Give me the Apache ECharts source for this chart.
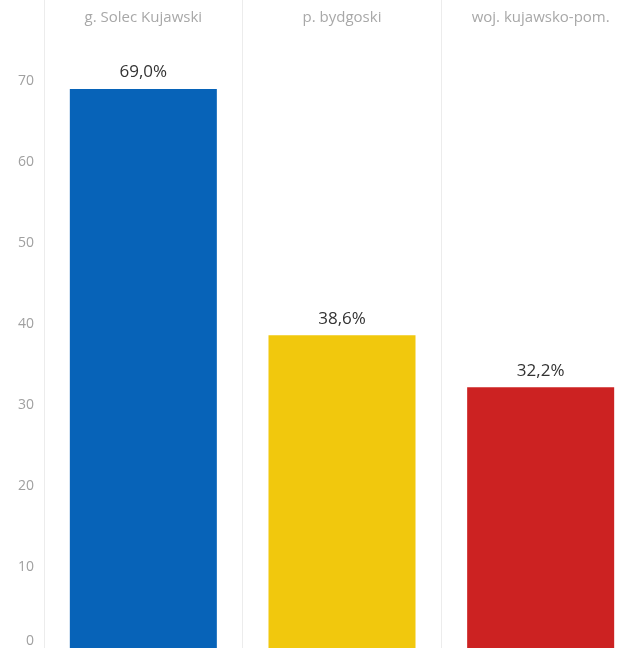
<!DOCTYPE html>
<html><head><meta charset="utf-8">
<script src="https://cdn.jsdelivr.net/npm/echarts@6/dist/echarts.min.js"></script>
<style>html,body{margin:0;padding:0;background:#fff}#c{width:640px;height:648px}</style>
</head><body><div id="c"></div>
<script>
const categories = ['g. Solec Kujawski', 'p. bydgoski', 'woj. kujawsko-pom.'];
const values = [69.0, 38.6, 32.2];
const colors = ['#0763b8', '#f1c80d', '#cc2222'];

const chart = echarts.init(document.getElementById('c'));
chart.setOption({
  animation: false,
  backgroundColor: '#fff',
  grid: { left: 44, right: -3, top: 0, bottom: 0, containLabel: false },
  xAxis: {
    type: 'category',
    data: categories,
    position: 'top',
    axisLine: { show: false },
    axisTick: { show: false },
    axisLabel: { inside: true, margin: 10, color: '#a8a8a8', fontSize: 15, fontFamily: 'Open Sans', interval: 0 },
    splitLine: { show: true, lineStyle: { color: '#ececec', width: 1 } }
  },
  yAxis: {
    type: 'value',
    min: 0, max: 80, interval: 10,
    axisLine: { show: false },
    axisTick: { show: false },
    splitLine: { show: false },
    axisLabel: { color: '#a0a0a0', fontSize: 14, fontFamily: 'Open Sans', margin: 10, showMaxLabel: false, verticalAlignMinLabel: 'bottom' }
  },
  series: [{
    type: 'bar',
    data: values.map((v, i) => ({ value: v, itemStyle: { color: colors[i] } })),
    barCategoryGap: '26%',
    label: {
      show: true, position: 'top', distance: 8, color: '#333', fontSize: 17, fontWeight: 500, fontFamily: 'Open Sans',
      formatter: p => p.value.toFixed(1).replace('.', ',') + '%'
    }
  }]
});
</script></body></html>
